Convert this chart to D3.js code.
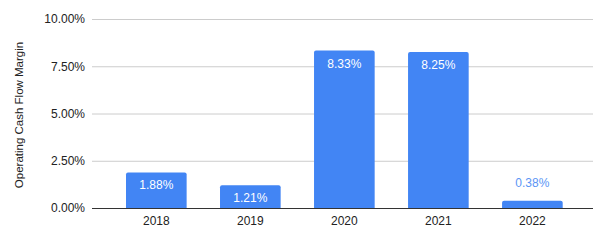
<!DOCTYPE html>
<html>
<head>
<meta charset="utf-8">
<script src="https://cdn.jsdelivr.net/npm/d3@7"></script>
<style>
  body { margin: 0; background: #fff; }
  text { font-family: Arial, "Liberation Sans", sans-serif; }
</style>
</head>
<body>
<div id="chart"></div>
<script>
let w = 607; let h = 241;

let years = ["2018", "2019", "2020", "2021", "2022"];
let margins = [1.88, 1.21, 8.33, 8.25, 0.38];
let yTicks = [0, 2.5, 5, 7.5, 10];

let svg = d3.select("#chart").append("svg").attr("width", w).attr("height", h);

let x = d3.scaleBand().domain(years).range([126, 562.7]).paddingInner(0.355).paddingOuter(0);
let y = d3.scaleLinear().domain([0, 10]).range([208, 19]);

// gridlines + y labels
svg.append("g")
  .attr("transform", "translate(92,0)")
  .call(d3.axisLeft(y).tickValues(yTicks).tickSize(-501).tickPadding(7)
    .tickFormat(d => d.toFixed(2) + "%"))
  .call(g => g.select(".domain").remove())
  .call(g => g.selectAll(".tick line").attr("stroke", "#cccccc"))
  .call(g => g.selectAll(".tick text").attr("fill", "#222").attr("font-size", 12));

// bars with small rounded top
let r = 2;
svg.append("g").selectAll("path").data(years).enter().append("path")
  .attr("fill", "#4285f4")
  .attr("d", (d, i) => {
    let x0 = x(d), x1 = x(d) + x.bandwidth(), yt = y(margins[i]), yb = y(0);
    return `M${x0},${yb}V${yt + r}Q${x0},${yt} ${x0 + r},${yt}H${x1 - r}Q${x1},${yt} ${x1},${yt + r}V${yb}Z`;
  });

// baseline
svg.append("g")
  .attr("transform", "translate(0,208)")
  .call(d3.axisBottom(x).tickSize(0).tickPadding(8))
  .call(g => g.select(".domain").attr("d", "M92,0.5H593").attr("stroke", "#333"))
  .call(g => g.selectAll(".tick text").attr("fill", "#222").attr("font-size", 12));

// value labels
svg.append("g").selectAll("text").data(years).enter().append("text")
  .attr("x", d => x(d) + x.bandwidth() / 2)
  .attr("y", (d, i) => {
    let yt = y(margins[i]);
    return (y(0) - yt) > 22 ? yt + 17 : yt - 14;
  })
  .attr("text-anchor", "middle")
  .attr("font-size", 12)
  .attr("fill", (d, i) => (y(0) - y(margins[i])) > 22 ? "#ffffff" : "#5b95f5")
  .text((d, i) => margins[i].toFixed(2) + "%");

// y title
svg.append("text")
  .attr("transform", "translate(23,115) rotate(-90)")
  .attr("text-anchor", "middle")
  .attr("font-size", 11.5)
  .attr("fill", "#222")
  .text("Operating Cash Flow Margin");
</script>
</body>
</html>
